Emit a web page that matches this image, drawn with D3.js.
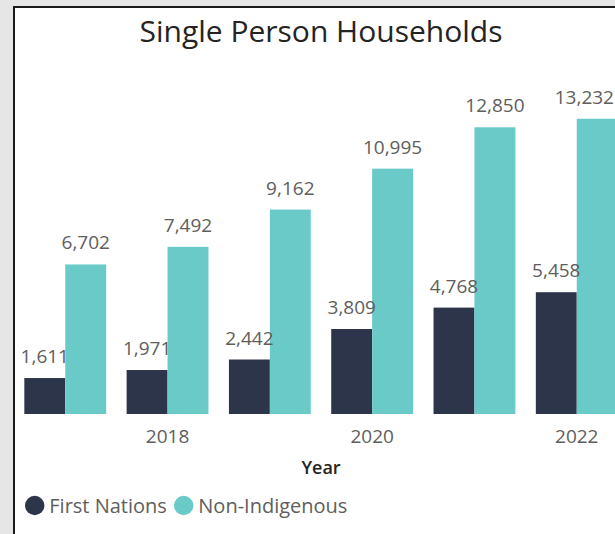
<!DOCTYPE html>
<html>
<head>
<meta charset="utf-8">
<script src="https://cdn.jsdelivr.net/npm/d3@7"></script>
<style>
  body { margin: 0; background: #e6e6e6; }
  svg { display: block; font-family: "Open Sans", "Noto Sans", sans-serif; }
</style>
</head>
<body>
<div id="viz"></div>
<script>
/* Single person households, grouped bars per year */

var years = ['2017', '2018', '2019', '2020', '2021', '2022'],
    tickYears = ['2018', '2020', '2022'],
    seriesNames = ['First Nations', 'Non-Indigenous'],
    firstNations = [1611, 1971, 2442, 3809, 4768, 5458],
    nonIndigenous = [6702, 7492, 9162, 10995, 12850, 13232];

var width = 615,
    height = 534,
    baseY = 414,
    colors = ['#2d354a', '#6acac8'];

var rows = years.map(function(y, i) {
  return { year: y, values: [firstNations[i], nonIndigenous[i]] };
});

var svg = d3.select('#viz').append('svg')
    .attr('width', width)
    .attr('height', height);

// grey page + card border
svg.append('rect')
    .attr('width', width).attr('height', height)
    .attr('fill', '#e6e6e6');
svg.append('rect')
    .attr('x', 14).attr('y', 7)
    .attr('width', 700).attr('height', 600)
    .attr('fill', '#fff')
    .attr('stroke', '#1b1b1b')
    .attr('stroke-width', 2);

svg.append('text')
    .attr('x', 321).attr('y', 42)
    .attr('text-anchor', 'middle')
    .attr('fill', '#252423')
    .style('font-size', '30px')
    .style('font-weight', 500)
    .text('Single Person Households');

var xScale = d3.scaleBand()
    .domain(years)
    .range([14.1, 627.9])
    .paddingInner(0.2)
    .paddingOuter(0.1);

var xInner = d3.scaleBand()
    .domain([0, 1])
    .range([0, xScale.bandwidth()]);

var yScale = d3.scaleLinear()
    .domain([0, 14000])
    .range([baseY, 101.6]);

var groups = svg.selectAll('g.year').data(rows)
  .enter().append('g')
    .attr('class', 'year')
    .attr('transform', function(d) { return 'translate(' + xScale(d.year) + ',0)'; });

groups.selectAll('rect').data(function(d) { return d.values; })
  .enter().append('rect')
    .attr('x', function(d, i) { return xInner(i); })
    .attr('y', function(d) { return yScale(d); })
    .attr('width', xInner.bandwidth())
    .attr('height', function(d) { return baseY - yScale(d); })
    .attr('fill', function(d, i) { return colors[i]; });

groups.selectAll('text').data(function(d) { return d.values; })
  .enter().append('text')
    .attr('x', function(d, i) { return xInner(i) + xInner.bandwidth() / 2; })
    .attr('y', function(d) { return yScale(d) - 15; })
    .attr('text-anchor', 'middle')
    .attr('fill', '#605e5c')
    .style('font-size', '19px')
    .text(function(d) { return d3.format(',')(d); });

// keep labels inside the visible area, like the original does
groups.each(function(d) {
  var gx = xScale(d.year);
  d3.select(this).selectAll('text').each(function() {
    var t = d3.select(this),
        w = this.getComputedTextLength(),
        cx = +t.attr('x');
    if (gx + cx + w / 2 > width - 1) {
      t.attr('x', width - 1 - gx - w / 2);
    }
  });
});

var xAxis = d3.axisBottom(xScale)
    .tickValues(tickYears)
    .tickSize(0)
    .tickPadding(0);

var xGuide = svg.append('g')
    .attr('transform', 'translate(0,' + baseY + ')')
    .call(xAxis);
xGuide.select('.domain').remove();
xGuide.selectAll('text')
    .attr('dy', null)
    .attr('y', 29)
    .attr('fill', '#605e5c')
    .style('font-family', '"Open Sans", "Noto Sans", sans-serif')
    .style('font-size', '19px');

svg.append('text')
    .attr('x', 321).attr('y', 474)
    .attr('text-anchor', 'middle')
    .attr('fill', '#252423')
    .style('font-size', '18px')
    .style('font-weight', 600)
    .text('Year');

// legend
var legendX = [34.7, 183.7];
var legend = svg.selectAll('g.legend').data(seriesNames)
  .enter().append('g')
    .attr('class', 'legend')
    .attr('transform', function(d, i) { return 'translate(' + legendX[i] + ',505.5)'; });
legend.append('circle')
    .attr('r', 9.7)
    .attr('fill', function(d, i) { return colors[i]; });
legend.append('text')
    .attr('x', 14.6)
    .attr('y', 7.5)
    .attr('fill', '#605e5c')
    .style('font-size', '20px')
    .text(function(d) { return d; });
</script>
</body>
</html>
